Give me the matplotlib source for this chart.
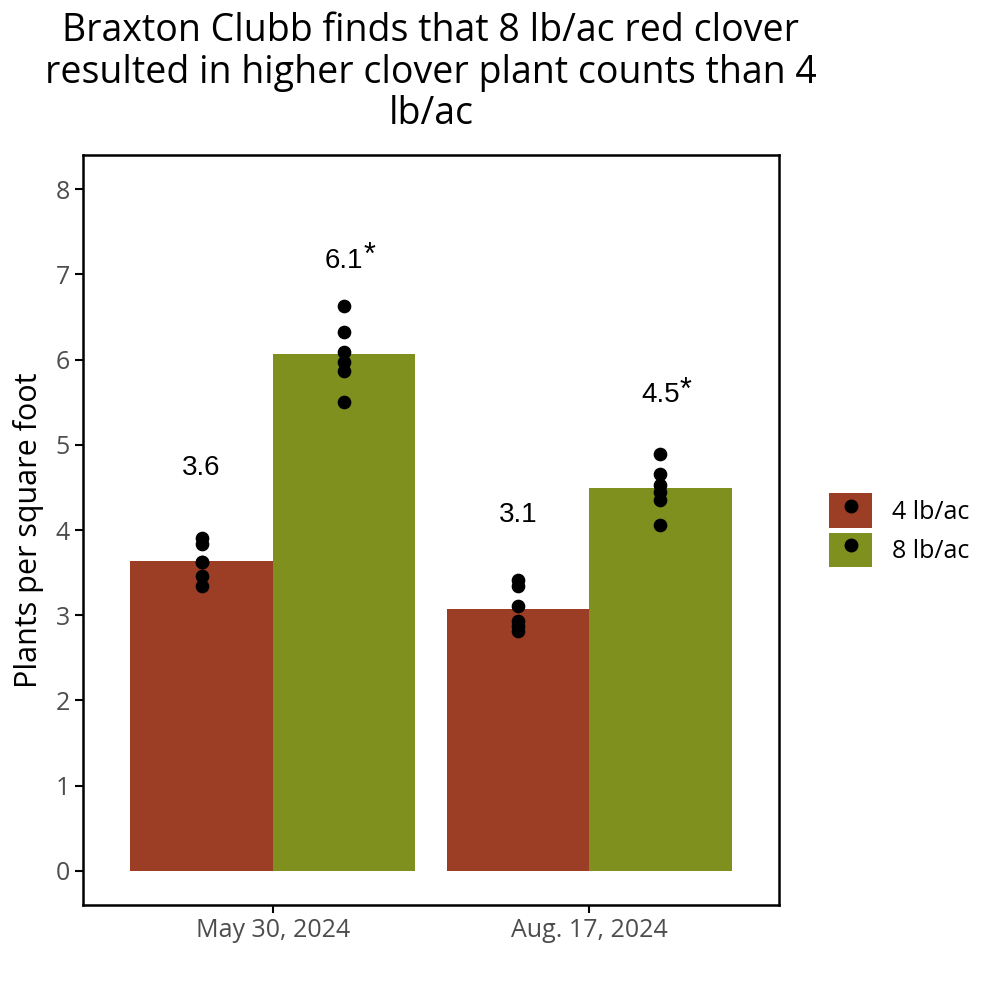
import matplotlib
matplotlib.use("Agg")
import matplotlib.pyplot as plt
import matplotlib.transforms as mtransforms
from matplotlib.patches import Patch
from matplotlib.lines import Line2D
import numpy as np

# data
dates = ["May 30, 2024", "Aug. 17, 2024"]
rates = ["4 lb/ac", "8 lb/ac"]
colors = ["#9C3E25", "#80901F"]

# individual plot counts (plants per square foot)
may_4 = [3.91, 3.83, 3.63, 3.62, 3.46, 3.34]
may_8 = [6.63, 6.32, 6.09, 5.97, 5.86, 5.50]
aug_4 = [3.41, 3.34, 3.11, 2.93, 2.87, 2.81]
aug_8 = [4.89, 4.66, 4.53, 4.44, 4.35, 4.06]

points = [[may_4, may_8], [aug_4, aug_8]]
significant = [[False, True], [False, True]]

plt.rcParams["font.family"] = ["Open Sans", "DejaVu Sans"]

fig = plt.figure(figsize=(10, 10), dpi=100)
ax = fig.add_axes([0.083, 0.095, 0.696, 0.75])

width = 0.45
for i, date in enumerate(dates):
    for j, rate in enumerate(rates):
        x = i + 1 + (j - 0.5) * width
        vals = points[i][j]
        mean = np.mean(vals)
        ax.bar(x, mean, width=width, color=colors[j], zorder=1)
        ax.scatter([x] * len(vals), vals, s=78, color="black", zorder=3)
        ax.text(x, mean + 1.1, f"{mean:.1f}", ha="center", va="center",
                fontsize=20, family="Liberation Sans", zorder=4)
        if significant[i][j]:
            # star sits just right of the number, a little raised
            off = mtransforms.offset_copy(ax.transData, fig=fig, x=18, y=3, units="points")
            ax.text(x, mean + 1.1, "*", ha="center", va="center", fontsize=22,
                    family="Liberation Sans", transform=off)

ax.set_xlim(0.4, 2.6)
ax.set_ylim(-0.4, 8.4)
ax.set_xticks([1, 2])
ax.set_xticklabels(dates)
ax.set_yticks(range(0, 9))
ax.tick_params(axis="both", labelsize=18, labelcolor="#4D4D4D", length=6, width=1.5, color="black")
for s in ax.spines.values():
    s.set_linewidth(1.8)
    s.set_color("black")

ax.set_ylabel("Plants per square foot", fontsize=22, labelpad=8)
ax.set_title("Braxton Clubb finds that 8 lb/ac red clover\nresulted in higher clover plant counts than 4\nlb/ac",
             fontsize=27, pad=22, linespacing=1.13)

handles = [(Patch(facecolor=c), Line2D([], [], marker="o", color="black", linestyle="none", markersize=9))
           for c in colors]
fig.legend(handles, rates, loc="center left", bbox_to_anchor=(0.829, 0.47), frameon=False,
           fontsize=18, handlelength=1.72, handleheight=1.72, labelspacing=0.2, handletextpad=0.8,
           borderpad=0, borderaxespad=0)

fig.savefig("out.png", dpi=100)
